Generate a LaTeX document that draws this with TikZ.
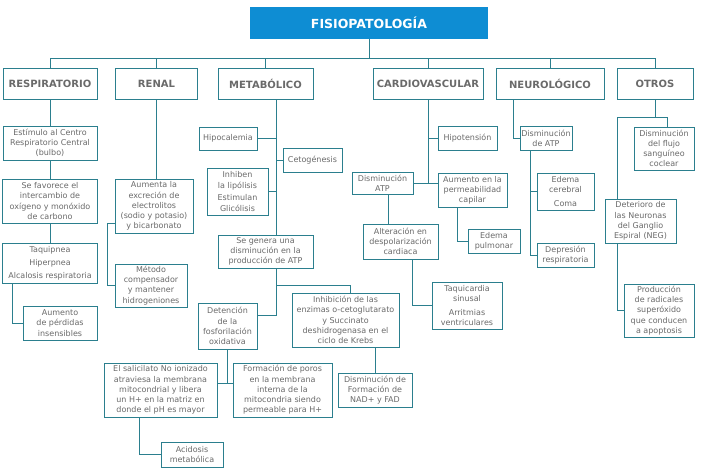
\documentclass[tikz,border=0pt]{standalone}
\usepackage{fontspec}
\setmainfont{DejaVu Sans}
\usetikzlibrary{positioning}
\definecolor{linea}{HTML}{2B7F8E}
\definecolor{texto}{HTML}{6A6A6A}
\definecolor{azul}{HTML}{0E8DD3}
\tikzset{
        base/.style={draw=linea, line width=0.8pt, fill=white, align=center, inner sep=0pt},
        proc/.style={base, text=texto, font=\fontsize{8}{10.2}\selectfont},
        cat/.style={base, text=texto, minimum height=31pt,
                    font=\fontsize{10}{12}\selectfont\bfseries},
        head/.style={fill=azul, text=white, minimum width=238pt, minimum height=32pt,
                     font=\fontsize{12.5}{14}\selectfont\bfseries},
        myline/.style={draw=linea, line width=0.8pt},
 }
\begin{document}
\begin{tikzpicture}[x=1pt, y=-1pt]
    \useasboundingbox (0,0) rectangle (702,473);
    \node[head] (t) at (369,23) {FISIOPATOLOGÍA};
    \node[cat, minimum width=94pt] (r) at (50,83.5) {RESPIRATORIO};
    \node[cat, minimum width=82pt] (n) at (156.5,83.5) {RENAL};
    \node[cat, minimum width=95pt] (m) at (265.5,83.5) {METABÓLICO};
    \node[cat, minimum width=110pt] (c) at (428,83.5) {CARDIOVASCULAR};
    \node[cat, minimum width=108pt] (ne) at (550,83.5) {NEUROLÓGICO};
    \node[cat, minimum width=76pt] (o) at (655,83.5) {OTROS};

    \draw[myline] (t.south) -- ++(0,19) coordinate (bus);
    \foreach \k in {r,n,m,c,ne,o}
        \draw[myline] (\k.north) |- (bus);

    % respiratorio
    \node[proc, minimum width=94pt, minimum height=34pt] (r1) at (50,143) {Estímulo al Centro\\Respiratorio Central\\(bulbo)};
    \node[proc, minimum width=95pt, minimum height=44pt] (r2) at (50,201) {Se favorece el\\intercambio de\\oxígeno y monóxido\\de carbono};
    \node[proc, minimum width=95pt, minimum height=40pt] (r3) at (50,263) {Taquipnea\\[2.6pt]Hiperpnea\\[2.6pt]Alcalosis respiratoria};
    \node[proc, minimum width=74pt, minimum height=34pt] (r4) at (60,323) {Aumento\\de pérdidas\\insensibles};
    \draw[myline] (r) -- (r1);
    \draw[myline] (r1) -- (r2);
    \draw[myline] (r2) -- (r3);
    \draw[myline] ([xshift=10pt]r3.south west) |- (r4);

    % renal
    \node[proc, minimum width=78pt, minimum height=54pt] (n1) at (154,206) {Aumenta la\\excreción de\\electrolitos\\(sodio y potasio)\\y bicarbonato};
    \node[proc, minimum width=72pt, minimum height=43pt] (n2) at (151,285.5) {Método\\compensador\\y mantener\\hidrogeniones};
    \draw[myline] (n.south) -- (n.south |- n1.north);
    \draw[myline] ([yshift=10pt]n1.south west) -- ++(-7,0) |- (n2);

    % metabolico
    \coordinate (ms) at ([xshift=10.5pt]m.south);
    \node[proc, minimum width=58pt, minimum height=23pt] (m1) at (228,138.5) {Hipocalemia};
    \node[proc, minimum width=59pt, minimum height=24pt] (m2) at (312.5,160) {Cetogénesis};
    \node[proc, minimum width=61pt, minimum height=47pt] (m3) at (237.5,191.5) {Inhiben\\la lipólisis\\[2.6pt]Estimulan\\Glicólisis};
    \node[proc, minimum width=95pt, minimum height=33pt] (m4) at (265.5,251.5) {Se genera una\\disminución en la\\producción de ATP};
    \draw[myline] (ms) -- (ms |- m4.north);
    \foreach \k in {m1,m2,m3}
        \draw[myline] (\k) -- (\k -| ms);

    \node[proc, minimum width=59pt, minimum height=46pt] (m5) at (227.5,326) {Detención\\de la\\fosforilación\\oxidativa};
    \node[proc, minimum width=107pt, minimum height=54pt] (m6) at (345.5,320) {Inhibición de las\\enzimas o-cetoglutarato\\y Succinato\\deshidrogenasa en el\\ciclo de Krebs};
    \node[proc, minimum width=74pt, minimum height=34pt] (m7) at (375,390) {Disminución de\\Formación de\\NAD+ y FAD};
    \node[proc, minimum width=113pt, minimum height=54pt] (m8) at (160.5,390) {El salicilato No ionizado\\atraviesa la membrana\\mitocondrial y libera\\un H+ en la matriz en\\donde el pH es mayor};
    \node[proc, minimum width=99pt, minimum height=54pt] (m9) at (282.5,390) {Formación de poros\\en la membrana\\interna de la\\mitocondria siendo\\permeable para H+};
    \node[proc, minimum width=62pt, minimum height=25pt] (m10) at (192,454.5) {Acidosis\\metabólica};
    \coordinate (gs) at (m4.south -| ms);
    \draw[myline] (gs) |- ([yshift=11pt]m5.east);
    \draw[myline] (gs) -- ++(0,17) -| ([xshift=4.5pt]m6.north);
    \draw[myline] (m6.south -| m7) -- (m7);
    \coordinate (sj) at ([yshift=7pt]m8.east);
    \draw[myline] (m5.south) -- (m5.south |- sj);
    \draw[myline] (sj) -- (sj -| m9.west);
    \draw[myline] ([xshift=36pt]m8.south west) |- (m10);

    % cardiovascular
    \node[proc, minimum width=59pt, minimum height=24pt] (c1) at (467.5,138) {Hipotensión};
    \node[proc, minimum width=61pt, minimum height=22pt] (c2) at (382.5,183) {Disminución\\ATP};
    \node[proc, minimum width=69pt, minimum height=34pt] (c3) at (472.5,190) {Aumento en la\\permeabilidad\\capilar};
    \node[proc, minimum width=52pt, minimum height=24pt] (c4) at (494,241) {Edema\\pulmonar};
    \node[proc, minimum width=75pt, minimum height=35pt] (c5) at (400.5,241.5) {Alteración en\\despolarización\\cardiaca};
    \node[proc, minimum width=70pt, minimum height=47pt] (c6) at (467,305.5) {Taquicardia\\sinusal\\[3pt]Arritmias\\ventriculares};
    \draw[myline] (c.south) -- (c.south |- c2.east);
    \draw[myline] (c1) -- (c1 -| c.south);
    \draw[myline] (c2) -- (c2 -| c3.west);
    \draw[myline] ([xshift=20pt]c3.south west) |- (c4);
    \draw[myline] ([xshift=5.5pt]c2.south) -- ([xshift=5.5pt]c2.south |- c5.north);
    \draw[myline] ([xshift=11.5pt]c5.south) |- (c6);

    % neurologico
    \node[proc, minimum width=52pt, minimum height=24pt] (ne1) at (546,138) {Disminución\\de ATP};
    \node[proc, minimum width=57pt, minimum height=37pt] (ne2) at (565.5,191.5) {Edema\\cerebral\\[3pt]Coma};
    \node[proc, minimum width=57pt, minimum height=24pt] (ne3) at (565.5,255) {Depresión\\respiratoria};
    \draw[myline] ([xshift=-37pt]ne.south) |- (ne1);
    \coordinate (ns) at ([xshift=-16pt]ne1.south);
    \draw[myline] (ns) |- (ne3);
    \draw[myline] (ne2) -- (ne2 -| ns);

    % otros
    \node[proc, minimum width=60pt, minimum height=43pt] (o1) at (664,148.5) {Disminución\\del flujo\\sanguíneo\\coclear};
    \node[proc, minimum width=71pt, minimum height=44pt] (o2) at (640.5,221) {Deterioro de\\las Neuronas\\del Ganglio\\Espiral (NEG)};
    \node[proc, minimum width=70pt, minimum height=53pt] (o3) at (659,310.5) {Producción\\de radicales\\superóxido\\que conducen\\a apoptosis};
    \draw[myline] (o.south) -- ++(0,18) coordinate (oj);
    \draw[myline] ([xshift=-23.5pt]o2.north) |- (oj) -| ([xshift=3pt]o1.north);
    \draw[myline] ([xshift=-23.5pt]o2.south) |- (o3);
\end{tikzpicture}
\end{document}
